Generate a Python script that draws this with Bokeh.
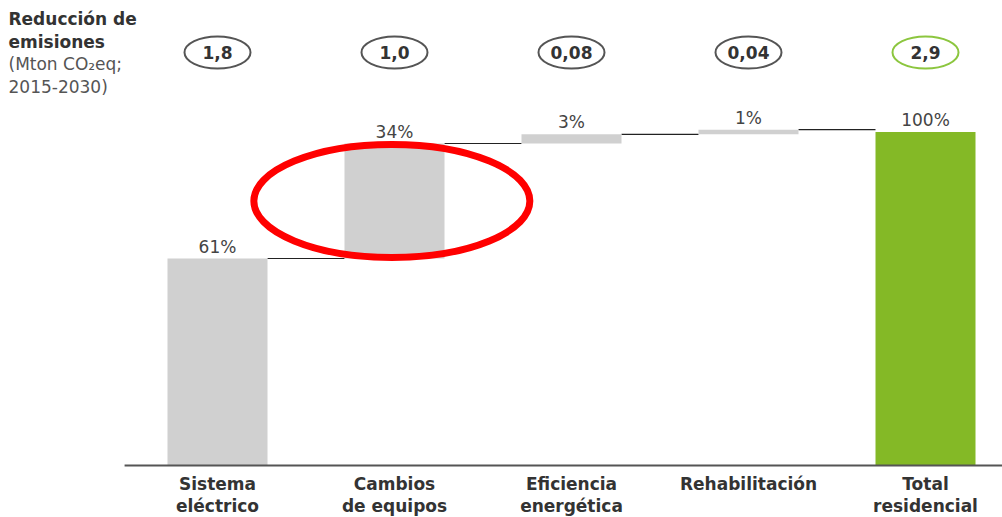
from bokeh.plotting import figure
from bokeh.models import Range1d, Label, ColumnDataSource
from bokeh.core.properties import value
from bokeh.embed import file_html
from bokeh.resources import INLINE

# Emission reductions (Mton CO2eq, 2015-2030) by lever
categories = ["Sistema\neléctrico", "Cambios\nde equipos", "Eficiencia\nenergética",
              "Rehabilitación", "Total\nresidencial"]
reductions = [1.8, 1.0, 0.08, 0.04]
total = 2.9
value_labels = ["1,8", "1,0", "0,08", "0,04", "2,9"]
pct_labels = ["61%", "34%", "3%", "1%", "100%"]

GREY = "#d0d0d0"
GREEN = "#84b926"
TEXT = "#333333"
BAR_W = 0.565

xs = list(range(len(categories)))

# waterfall bottoms/tops
bottoms, tops = [], []
run = 0.0
for r in reductions:
    bottoms.append(run)
    run += r
    tops.append(run)
bottoms.append(0.0)
tops.append(total)

W, H = 1002, 517
px_x = 177.0          # pixels per category step
px_y = 115.0          # pixels per Mton
x0_px, base_px = 217.0, 465.0

p = figure(width=W, height=H, output_backend="svg", toolbar_location=None,
           x_range=Range1d(-x0_px / px_x, (W - x0_px) / px_x),
           y_range=Range1d(-(H - base_px) / px_y, base_px / px_y),
           min_border=0)
p.axis.visible = False
p.grid.visible = False
p.outline_line_color = None
p.background_fill_color = "white"

colors = [GREY] * len(reductions) + [GREEN]
src = ColumnDataSource(dict(x=xs, bottom=bottoms, top=tops, color=colors,
                            pct=pct_labels, val=value_labels, cat=categories))

# connectors between consecutive bars
p.segment(x0=[x + BAR_W / 2 for x in xs[:-1]], x1=[x + 1 - BAR_W / 2 for x in xs[:-1]],
          y0=tops[:-1], y1=tops[:-1], line_color="#222222", line_width=1.2)

p.vbar(x="x", bottom="bottom", top="top", width=BAR_W, fill_color="color",
       line_color=None, source=src)

# baseline axis
p.segment(x0=[-0.525], x1=[p.x_range.end], y0=[0], y1=[0],
          line_color="#555555", line_width=2)

# percentage labels above bars
p.text(x="x", y="top", text="pct", source=src, text_align="center",
       text_baseline="bottom", y_offset=-2, text_font=value("DejaVu Sans"),
       text_font_size="17px", text_color="#444444")

# category labels under the axis
p.text(x="x", y=0, text="cat", source=src, text_align="center",
       text_baseline="top", y_offset=8, text_font=value("DejaVu Sans"),
       text_font_style="bold", text_font_size="17px", text_color=TEXT,
       text_line_height=1.12)

# value bubbles
bubble_y = (base_px - 52) / px_y
p.ellipse(x=xs, y=[bubble_y] * len(xs), width=66 / px_x, height=32 / px_y,
          fill_color="white", line_color=["#555555"] * 4 + ["#8cc63f"], line_width=2)
p.text(x=xs, y=[bubble_y] * len(xs), text=value_labels, text_align="center",
       text_baseline="middle", text_font=value("DejaVu Sans"),
       text_font_style="bold", text_font_size="17px", text_color=TEXT)

# highlight around the second lever
p.ellipse(x=[xs[1] - 0.015], y=[(bottoms[1] + tops[1]) / 2], width=276 / px_x,
          height=113 / px_y, fill_color=None, line_color="#ff0000", line_width=7)

# header in the top-left corner
header = [("Reducción de", "bold", TEXT, 18),
          ("emisiones", "bold", TEXT, 41),
          ("(Mton CO₂eq;", "normal", "#555555", 63),
          ("2015-2030)", "normal", "#555555", 86)]
for txt, style, col, ypix in header:
    p.add_layout(Label(x=8, y=H - ypix, x_units="screen", y_units="screen",
                       text=txt, text_font="DejaVu Sans", text_font_style=style,
                       text_font_size="17px", text_color=col, text_baseline="middle"))

open("out.html", "w").write(file_html(p, INLINE))
